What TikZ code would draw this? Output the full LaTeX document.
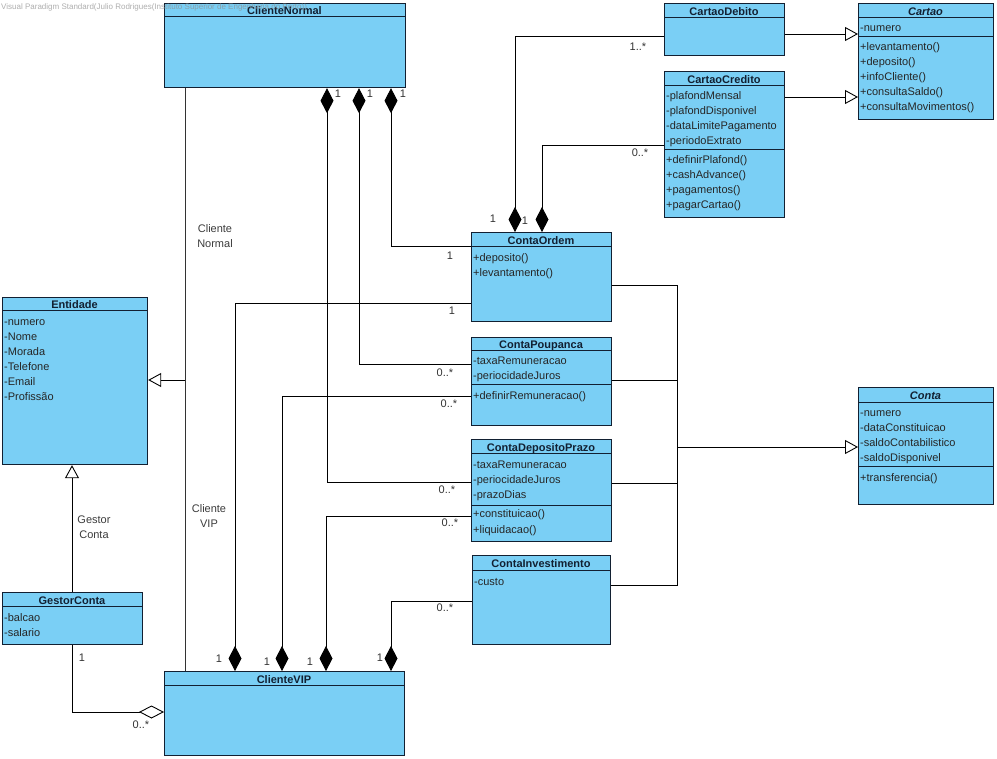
\documentclass[tikz,border=0pt]{standalone}
\usepackage{fontspec}
\setmainfont{Liberation Sans}
\usetikzlibrary{arrows.meta}

\definecolor{classfill}{RGB}{122,207,245}
\definecolor{classedge}{RGB}{18,32,50}
\definecolor{labelgray}{RGB}{60,60,60}
\definecolor{markgray}{RGB}{140,140,140}

\tikzset{
  classbox/.style={draw=classedge, fill=classfill, line width=1.2pt, inner sep=0pt, anchor=north west},
  compline/.style={draw=classedge, line width=1pt},
  classtitle/.style={font=\fontsize{11}{13}\selectfont\bfseries, anchor=base, inner sep=0pt, text=classedge},
  rowtext/.style={anchor=base west, inner sep=0pt, text=black!85},
  conn/.style={line width=0.9pt, draw=black},
  gen/.style={conn, -{Triangle[open, length=13pt, width=14pt]}},
  comp/.style={conn, -{Diamond[length=25pt, width=13pt]}},
  aggr/.style={conn, -{Diamond[open, length=25pt, width=13pt]}},
  mult/.style={inner sep=0pt, text=black!80},
  rolelabel/.style={align=center, inner sep=0pt, text=labelgray, font=\fontsize{11}{15}\selectfont},
}

% class box: name, x1, y1, x2, y2, header line y, title
\newcommand\umlclass[7]{%
  \node[classbox, minimum width={(#4-#2)*1pt}, minimum height={(#5-#3)*1pt}] (#1) at (#2,#3) {};
  \draw[compline] (#2,#6) -- (#4,#6);
  \node[classtitle] (#1-title) at ({(#2+#4)/2},{(#3+#6)/2+5}) {#7};
}
% compartment rows: prefix, x, first row centre y, list of entries
\newcommand\umlrows[4]{%
  \foreach \t [count=\i] in {#4} {\node[rowtext] (#1-\i) at (#2,{#3+5+15*(\i-1)}) {\t};}
}

\begin{document}
\begin{tikzpicture}[x=1pt, y=-1pt, font=\fontsize{11}{13}\selectfont]
\useasboundingbox[fill=white] (0,0) rectangle (997,759);

% ---- classes ----
\umlclass{ClienteNormal}{164}{3}{405}{87}{17}{ClienteNormal}
\umlclass{ClienteVIP}{164}{671}{404}{755}{685}{ClienteVIP}

\umlclass{CartaoDebito}{664}{3}{784}{55}{18}{CartaoDebito}

\umlclass{Cartao}{858}{3}{993}{119}{18}{\itshape Cartao}
\draw[compline] (Cartao.west |- 0,37) -- (Cartao.east |- 0,37);
\umlrows{cartaoA}{860}{27}{-numero}
\umlrows{cartaoM}{860}{46}{+levantamento(),+deposito(),+infoCliente(),+consultaSaldo(),+consultaMovimentos()}

\umlclass{CartaoCredito}{664}{71}{784}{217}{86}{CartaoCredito}
\draw[compline] (CartaoCredito.west |- 0,150) -- (CartaoCredito.east |- 0,150);
\umlrows{creditoA}{666}{95}{-plafondMensal,-plafondDisponivel,-dataLimitePagamento,-periodoExtrato}
\umlrows{creditoM}{666}{159}{+definirPlafond(),+cashAdvance(),+pagamentos(),+pagarCartao()}

\umlclass{ContaOrdem}{471}{232}{611}{321}{247}{ContaOrdem}
\umlrows{ordemM}{473}{257}{+deposito(),+levantamento()}

\umlclass{ContaPoupanca}{471}{337}{611}{425}{351}{ContaPoupanca}
\draw[compline] (ContaPoupanca.west |- 0,385) -- (ContaPoupanca.east |- 0,385);
\umlrows{poupancaA}{473}{360}{-taxaRemuneracao,-periocidadeJuros}
\umlrows{poupancaM}{473}{395}{+definirRemuneracao()}

\umlclass{ContaDepositoPrazo}{471}{439}{611}{541}{454}{ContaDepositoPrazo}
\draw[compline] (ContaDepositoPrazo.west |- 0,505) -- (ContaDepositoPrazo.east |- 0,505);
\umlrows{prazoA}{473}{463}{-taxaRemuneracao,-periocidadeJuros,-prazoDias}
\umlrows{prazoM}{473}{513}{+constituicao(),+liquidacao()}

\umlclass{ContaInvestimento}{472}{555}{610}{644}{570}{ContaInvestimento}
\umlrows{investA}{474}{580}{-custo}

\umlclass{Conta}{858}{387}{993}{504}{403}{\itshape Conta}
\draw[compline] (Conta.west |- 0,467) -- (Conta.east |- 0,467);
\umlrows{contaA}{860}{412}{-numero,-dataConstituicao,-saldoContabilistico,-saldoDisponivel}
\umlrows{contaM}{860}{477}{+transferencia()}

\umlclass{Entidade}{2}{297}{147}{464}{311}{Entidade}
\umlrows{entA}{4}{321}{-numero,-Nome,-Morada,-Telefone,-Email,-Profissão}

\umlclass{GestorConta}{2}{592}{142}{644}{606}{GestorConta}
\umlrows{gestorA}{4}{616}{-balcao,-salario}

% ---- generalisations ----
\draw[gen] (CartaoDebito.east |- 0,34) -- (Cartao.west |- 0,34);
\draw[gen] (CartaoCredito.east |- 0,97) -- (Cartao.west |- 0,97);

\coordinate (contajoin) at (677,447);
\draw[conn] (ContaOrdem.east |- 0,285) -| (contajoin);
\draw[conn] (ContaPoupanca.east |- 0,380) -| (contajoin);
\draw[conn] (ContaDepositoPrazo.east |- 0,483) -| (contajoin);
\draw[conn] (ContaInvestimento.east |- 0,585) -| (contajoin);
\draw[gen] (contajoin) -- (Conta.west |- contajoin);

\coordinate (entjoin) at (185,380);
\draw[conn, draw=black!80] (ClienteNormal.south -| 185,0) -- (ClienteVIP.north -| 185,0);
\draw[gen] (entjoin) -- (Entidade.east |- entjoin);
\node[rolelabel] (lblNormal) at (215,236) {Cliente\\Normal};
\node[rolelabel] (lblVIP) at (209,516) {Cliente\\VIP};

\draw[gen] (GestorConta.north -| 72,0) -- (Entidade.south -| 72,0);
\node[rolelabel] (lblGestor) at (94,527) {Gestor\\Conta};

% ---- aggregation ----
\draw[aggr] (GestorConta.south -| 72,0) |- (ClienteVIP.west |- 0,712);
\node[mult] (mG1) at (82,658) {1};
\node[mult] (mG2) at (141,725) {0..*};

% ---- compositions: cards of the current account ----
\draw[comp] (CartaoDebito.west |- 0,36) -| (ContaOrdem.north -| 515,0);
\node[mult] (mD1) at (638,47) {1..*};
\node[mult] (mD2) at (493,219) {1};
\draw[comp] (CartaoCredito.west |- 0,145) -| (ContaOrdem.north -| 542,0);
\node[mult] (mC1) at (640,153) {0..*};
\node[mult] (mC2) at (525,221) {1};

% ---- compositions: accounts of ClienteNormal ----
\draw[comp] (ContaOrdem.west |- 0,246) -| (ClienteNormal.south -| 391,0);
\node[mult] (mN1) at (403,94) {1};
\node[mult] (mN1b) at (450,256) {1};
\draw[comp] (ContaPoupanca.west |- 0,364) -| (ClienteNormal.south -| 359,0);
\node[mult] (mN2) at (370,94) {1};
\node[mult] (mN2b) at (445,373) {0..*};
\draw[comp] (ContaDepositoPrazo.west |- 0,482) -| (ClienteNormal.south -| 327,0);
\node[mult] (mN3) at (338,94) {1};
\node[mult] (mN3b) at (447,490) {0..*};

% ---- compositions: accounts of ClienteVIP ----
\draw[comp] (ContaOrdem.west |- 0,303) -| (ClienteVIP.north -| 235,0);
\node[mult] (mV1) at (219,659) {1};
\node[mult] (mV1b) at (452,311) {1};
\draw[comp] (ContaPoupanca.west |- 0,396) -| (ClienteVIP.north -| 282,0);
\node[mult] (mV2) at (267,662) {1};
\node[mult] (mV2b) at (449,404) {0..*};
\draw[comp] (ContaDepositoPrazo.west |- 0,516) -| (ClienteVIP.north -| 326,0);
\node[mult] (mV3) at (310,662) {1};
\node[mult] (mV3b) at (450,523) {0..*};
\draw[comp] (ContaInvestimento.west |- 0,601) -| (ClienteVIP.north -| 391,0);
\node[mult] (mV4) at (380,658) {1};
\node[mult] (mV4b) at (445,608) {0..*};

% ---- tool watermark ----
\node[anchor=base west, inner sep=0pt, font=\fontsize{8}{9}\selectfont, text=markgray, opacity=0.7] (watermark) at (1,9.5)
  {Visual Paradigm Standard(Julio Rodrigues(Instituto Superior de Engenharia do Porto))};
\end{tikzpicture}
\end{document}
